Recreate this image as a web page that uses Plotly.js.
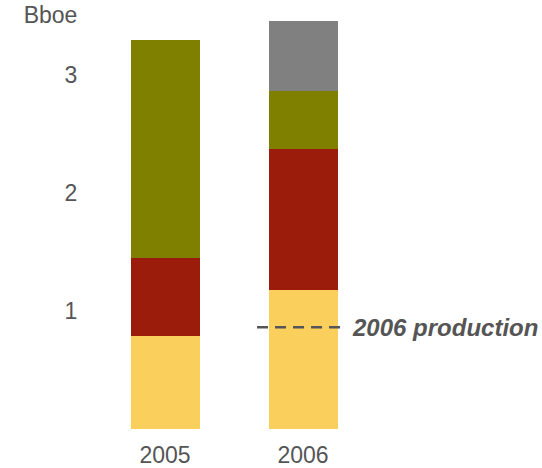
<!DOCTYPE html>
<html>
<head>
<meta charset="utf-8">
<script src="https://cdn.plot.ly/plotly-3.0.1.min.js"></script>
<style>html,body{margin:0;padding:0;background:#fff;}#chart{width:542px;height:468px;}</style>
</head>
<body>
<div id="chart"></div>
<script>
const years = ['2005', '2006'];
const seriesYellow = [0.79, 1.18];
const seriesRed = [0.66, 1.19];
const seriesOlive = [1.84, 0.49];
const seriesGray = [0, 0.59];
const production2006 = 0.86;
const yTickVals = [1, 2, 3, 3.5];
const yTickText = ['1', '2', '3', 'Bboe'];

const colors = ['#FBCF5B', '#9B1C0A', '#808000', '#808080'];
const series = [seriesYellow, seriesRed, seriesOlive, seriesGray];
const names = ['Segment 1', 'Segment 2', 'Segment 3', 'Segment 4'];

const traces = series.map((vals, i) => ({
  type: 'bar', x: years, y: vals, name: names[i],
  marker: {color: colors[i], line: {width: 0}},
  width: 0.5, hoverinfo: 'x+y+name'
}));

const layout = {
  width: 542, height: 468,
  margin: {l: 96, r: 170, t: 0, b: 39},
  barmode: 'stack', showlegend: false,
  paper_bgcolor: '#fff', plot_bgcolor: '#fff',
  font: {family: 'Liberation Sans, Arial, sans-serif', size: 23, color: '#555555'},
  xaxis: {type: 'category', range: [-0.5, 1.5], showgrid: false, zeroline: false, showline: false,
    ticks: 'outside', ticklen: 5, tickcolor: 'rgba(0,0,0,0)', tickfont: {size: 23, color: '#555555'}},
  yaxis: {range: [0, 3.63], showgrid: false, zeroline: false, showline: false,
    tickvals: yTickVals, ticktext: yTickText,
    ticks: 'outside', ticklen: 13, tickcolor: 'rgba(0,0,0,0)', tickfont: {size: 23, color: '#555555'}},
  shapes: [{type: 'line', xref: 'x', yref: 'y', x0: 0.667, x1: 1.29, y0: production2006, y1: production2006,
    line: {color: '#555555', width: 2.5, dash: '11px,7px'}, layer: 'above'}],
  annotations: [{xref: 'x', yref: 'y', x: 1.34, y: production2006, xanchor: 'left', yanchor: 'middle',
    text: '<b><i>2006 production</i></b>', showarrow: false,
    font: {size: 24, color: '#555555', family: 'Liberation Sans, Arial, sans-serif'}}]
};

Plotly.newPlot('chart', traces, layout, {displayModeBar: false, staticPlot: true});
</script>
</body>
</html>
